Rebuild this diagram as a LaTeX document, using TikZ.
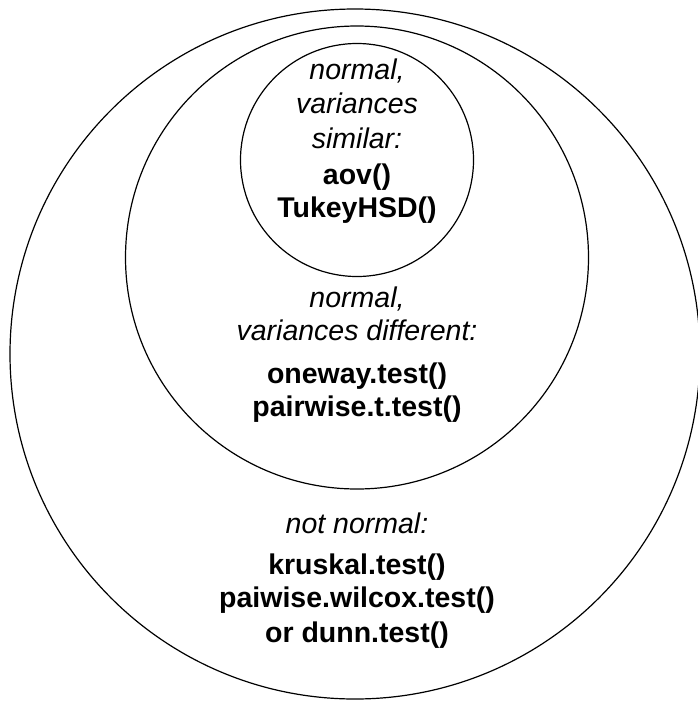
\documentclass[tikz,border=0pt]{standalone}
\usepackage{fontspec}
\setmainfont{Liberation Sans}
\begin{document}
\begin{tikzpicture}[x=1pt,y=-1pt,
  ring/.style={draw=black,line width=1.2pt},
  cond/.style={font=\fontsize{28.5}{34}\selectfont\itshape,anchor=base,inner sep=0pt},
  func/.style={font=\fontsize{28.5}{34}\selectfont\bfseries,anchor=base,inner sep=0pt}]
\useasboundingbox (0,0) rectangle (698,702);
\draw[ring] (355,354) circle[radius=345];
\draw[ring] (357,257.5) circle[radius=231.5];
\draw[ring] (357,160) circle[radius=116.5];
% inner
\node[cond] (i1) at (357,79) {normal,};
\node[cond] (i2) at (357,113) {variances};
\node[cond] (i3) at (357,148) {similar:};
\node[func] (i4) at (357,184) {aov()};
\node[func] (i5) at (357,217) {TukeyHSD()};
% middle
\node[cond] (m1) at (357,307) {normal,};
\node[cond] (m2) at (357,340) {variances different:};
\node[func] (m3) at (357,383) {oneway.test()};
\node[func] (m4) at (357,416) {pairwise.t.test()};
% outer
\node[cond] (o1) at (357,533) {not normal:};
\node[func] (o2) at (357,574) {kruskal.test()};
\node[func] (o3) at (357,607) {paiwise.wilcox.test()};
\node[func] (o4) at (357,642) {or dunn.test()};
\end{tikzpicture}
\end{document}
